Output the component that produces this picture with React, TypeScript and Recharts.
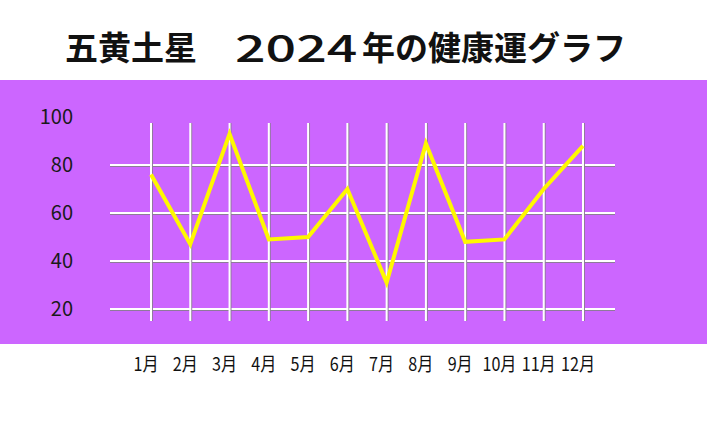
import React from "react";
import { LineChart, Line, XAxis, YAxis, CartesianGrid } from "recharts";

const MONTHS = ["1月", "2月", "3月", "4月", "5月", "6月", "7月", "8月", "9月", "10月", "11月", "12月"];
const HEALTH = [76, 47, 93, 49, 50, 70, 31, 89, 48, 49, 70, 88];
const Y_TICKS = [20, 40, 60, 80, 100];

const TITLE_HEAD = "五黄土星";
const TITLE_YEAR = "2024";
const TITLE_TAIL = "年の健康運グラフ";

const W = 707;
const H = 423;
const MARGIN = { top: 117, right: 92, bottom: 72, left: 50 };
const X_AXIS_H = 30;
const Y_AXIS_W = 60;
const PLOT_LEFT = MARGIN.left + Y_AXIS_W;
const PLOT_RIGHT = W - MARGIN.right;
const PLOT_BOTTOM = H - MARGIN.bottom - X_AXIS_H;

const FONT = "'Noto Sans CJK JP', sans-serif";

const data = MONTHS.map((month, i) => ({ month, value: HEALTH[i] }));

// white grid lines with a faint grey shadow; no lines on the plot border
function HorizontalLine(props: any) {
  const { x1, x2, y1, y2, index } = props;
  if (y1 < MARGIN.top + 1 || y1 > PLOT_BOTTOM - 1) return <g key={`h-${index}`} />;
  return (
    <g key={`h-${index}`}>
      <line x1={x1} x2={x2} y1={y1 + 1.2} y2={y2 + 1.2} stroke="#8e7a99" strokeWidth={1.5} />
      <line x1={x1} x2={x2} y1={y1} y2={y2} stroke="#ffffff" strokeWidth={2} />
    </g>
  );
}

function VerticalLine(props: any) {
  const { x1, x2, y1, y2, index } = props;
  if (x1 < PLOT_LEFT + 1 || x1 > PLOT_RIGHT - 1) return <g key={`v-${index}`} />;
  return (
    <g key={`v-${index}`}>
      <line x1={x1 + 1.2} x2={x2 + 1.2} y1={y1 + 6} y2={y2} stroke="#8e7a99" strokeWidth={1.5} />
      <line x1={x1} x2={x2} y1={y1 + 6} y2={y2} stroke="#ffffff" strokeWidth={2} />
    </g>
  );
}

// month labels are a bit condensed in the original
function MonthTick(props: any) {
  const { x, y, payload } = props;
  return (
    <g transform={`translate(${x - 5},${y})`}>
      <text
        transform="scale(0.85,1)"
        textAnchor="middle"
        dy="0.71em"
        fill="#111111"
        fontSize={19}
        fontFamily={FONT}
      >
        {payload.value}
      </text>
    </g>
  );
}

const titleText: React.CSSProperties = {
  position: "absolute",
  top: 30,
  fontSize: 33,
  lineHeight: "33px",
  fontWeight: 700,
  color: "#111111",
  whiteSpace: "nowrap",
};

export default function App() {
  return (
    <div
      style={{
        position: "absolute",
        left: 0,
        top: 0,
        width: W,
        height: H,
        background: "#ffffff",
        overflow: "hidden",
        fontFamily: FONT,
      }}
    >
      <div
        style={{
          position: "absolute",
          left: 0,
          top: 80,
          width: W,
          height: 264,
          background: "#cc66ff",
        }}
      />
      <div style={{ ...titleText, left: 65 }}>{TITLE_HEAD}</div>
      <div
        style={{
          ...titleText,
          left: 235,
          fontSize: 37,
          top: 28,
          lineHeight: "37px",
          fontWeight: 500,
          transform: "scaleX(1.45)",
          transformOrigin: "left center",
        }}
      >
        {TITLE_YEAR}
      </div>
      <div style={{ ...titleText, left: 362 }}>{TITLE_TAIL}</div>
      <div style={{ position: "absolute", left: 0, top: 0 }}>
        <LineChart width={W} height={H} data={data} margin={MARGIN}>
          <CartesianGrid horizontal={HorizontalLine} vertical={VerticalLine} />
          <XAxis
            dataKey="month"
            height={X_AXIS_H}
            padding={{ left: 41, right: 32 }}
            axisLine={false}
            tickLine={false}
            tickMargin={30}
            interval={0}
            tick={<MonthTick />}
          />
          <YAxis
            width={Y_AXIS_W}
            domain={[15, 100]}
            ticks={Y_TICKS}
            axisLine={false}
            tickLine={false}
            tickMargin={31}
            tick={{ fill: "#1a1a1a", fontSize: 20, fontFamily: FONT }}
          />
          <Line
            type="linear"
            dataKey="value"
            stroke="#fff800"
            strokeWidth={4}
            dot={false}
            isAnimationActive={false}
          />
        </LineChart>
      </div>
    </div>
  );
}
